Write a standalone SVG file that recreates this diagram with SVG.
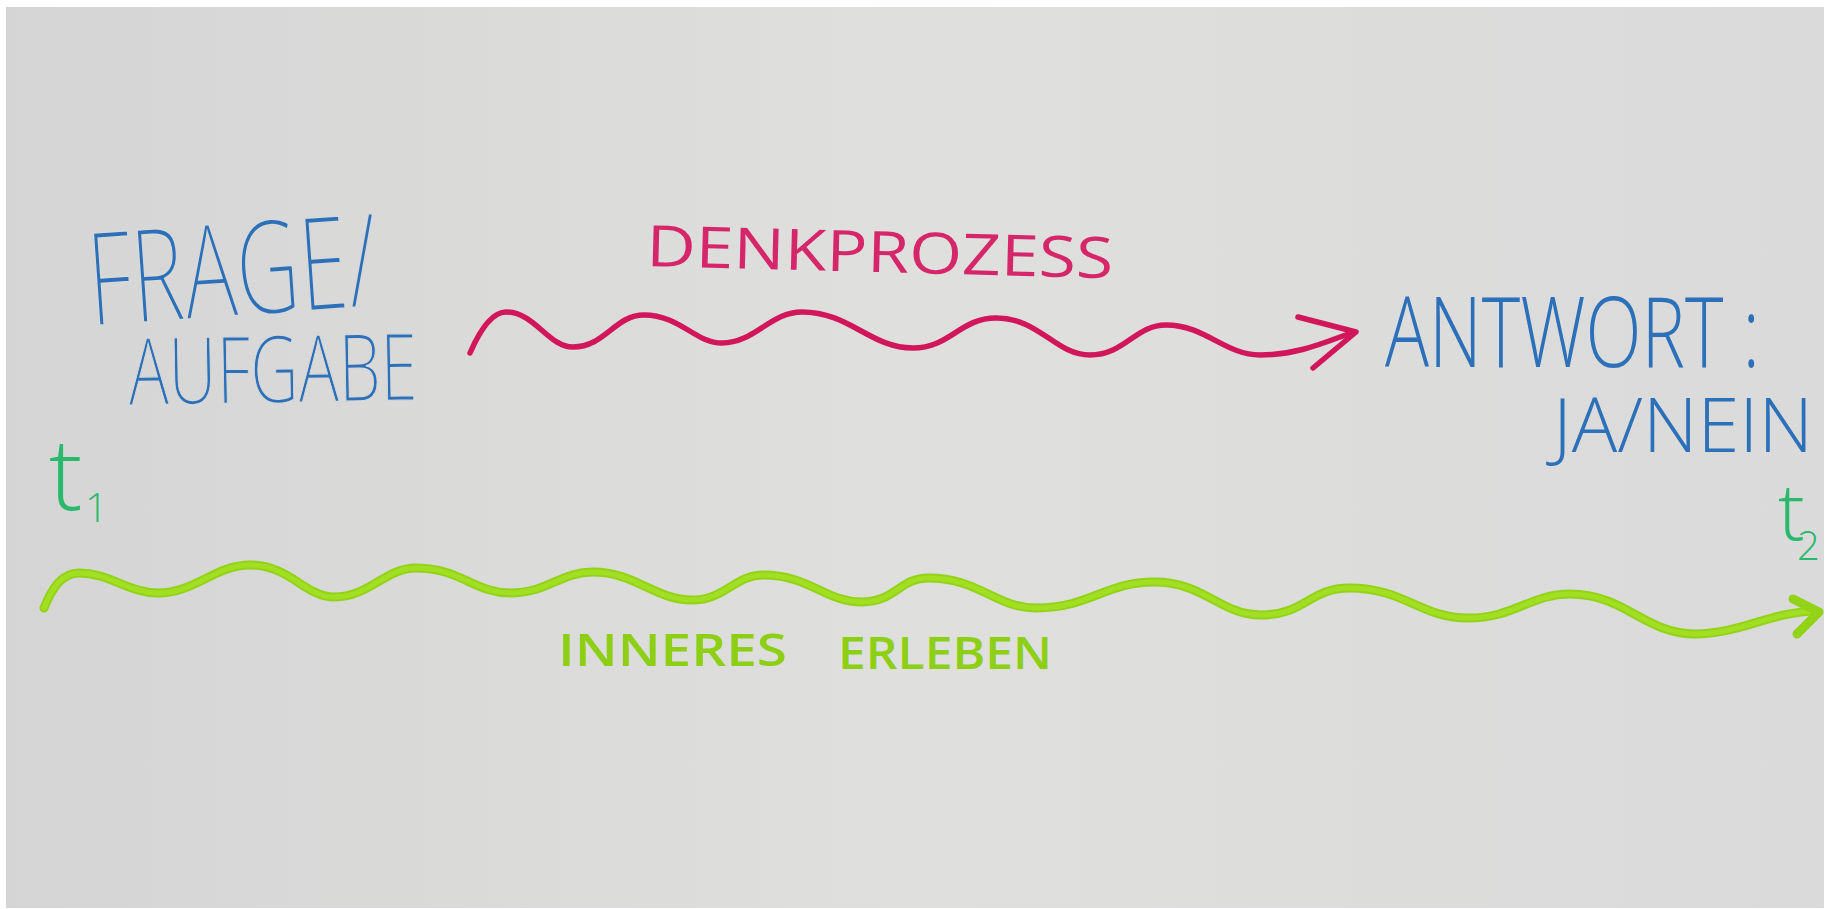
<svg xmlns="http://www.w3.org/2000/svg" width="1827" height="909" viewBox="0 0 1827 909">
<defs>
<linearGradient id="paper" x1="0" y1="0" x2="1" y2="0">
<stop offset="0" stop-color="#d5d5d5"/>
<stop offset="0.5" stop-color="#dfdfde"/>
<stop offset="1" stop-color="#dadada"/>
</linearGradient>
<style>
.blue{fill:#2b70b8;font-family:"Open Sans","Lato","Liberation Sans",sans-serif;font-weight:300}
.thin{stroke:#d8d8d8;paint-order:fill}
.red{fill:#d6266a;font-family:"Open Sans","Lato","Liberation Sans",sans-serif;font-weight:400}
.tg{fill:#29b96c;font-family:"Open Sans","Lato","Liberation Sans",sans-serif;font-weight:300}
.lime{fill:#8ccf14;font-family:"Open Sans","Lato","Liberation Sans",sans-serif;font-weight:600}
.wr{fill:none;stroke:#d1175a;stroke-width:5.5;stroke-linecap:round;stroke-linejoin:round}
.wg{fill:none;stroke:#92d318;stroke-width:9;stroke-linecap:round;stroke-linejoin:round}
.wgi{fill:none;stroke:#a2df22;stroke-width:5;stroke-linecap:round;stroke-linejoin:round}
</style>
</defs>
<rect x="0" y="0" width="1827" height="909" fill="#ffffff"/>
<rect x="6" y="7" width="1818" height="901" fill="url(#paper)"/>

<g id="frage">
<text class="blue thin" stroke-width="2" x="91" y="326" font-size="130" textLength="290" lengthAdjust="spacingAndGlyphs" transform="rotate(-4 91 326)">FRAGE/</text>
<text class="blue thin" stroke-width="1.2" x="129" y="405" font-size="93" textLength="289" lengthAdjust="spacingAndGlyphs" transform="rotate(-1 129 405)">AUFGABE</text>
</g>

<g id="denkprozess">
<text class="red" x="646" y="266" font-size="57" textLength="467" lengthAdjust="spacingAndGlyphs" transform="rotate(1.5 646 266)">DENKPROZESS</text>
</g>

<g id="antwort">
<text class="blue" transform="scale(0.75,1)" x="1846.7" y="367" font-size="98" textLength="500" lengthAdjust="spacingAndGlyphs">ANTWORT :</text>
<text class="blue" transform="scale(0.9,1)" x="1725.6" y="452" font-size="76" textLength="288.9" lengthAdjust="spacingAndGlyphs">JA/NEIN</text>
</g>

<g id="t1">
<text class="tg" x="49" y="510" font-size="100">t<tspan x="85" y="522" font-size="40">1</tspan></text>
</g>

<g id="t2">
<text class="tg" x="1778" y="540" font-size="80">t<tspan x="1797" y="560" font-size="40">2</tspan></text>
</g>

<g id="inneres">
<text class="lime" y="666" font-size="45"><tspan x="558" textLength="229" lengthAdjust="spacingAndGlyphs">INNERES</tspan> <tspan x="838" y="669" textLength="214" lengthAdjust="spacingAndGlyphs">ERLEBEN</tspan></text>
</g>

<g id="connectors">
<path class="wr" d="M470,353 C480,330 492,312 506,312 C535,312 548,347 573,347 C605,347 615,315 644,315 C680,315 695,343 722,343 C755,343 770,312 802,312 C850,312 870,348 913,348 C950,348 960,318 996,318 C1040,318 1055,355 1090,355 C1125,355 1135,325 1166,325 C1205,325 1225,355 1260,355 C1300,355 1330,340 1354,332"/>
<path class="wr" d="M1298,317 L1356,332 L1313,368" stroke-width="7"/>
<path class="wg" d="M44,608 C52,588 62,573 79,573 C110,573 128,593 158,593 C195,593 215,565 250,565 C290,565 305,597 334,597 C370,597 385,568 416,568 C460,568 475,593 510,593 C548,593 560,572 593,572 C635,572 655,600 692,600 C725,600 735,575 763,575 C810,575 825,602 862,602 C895,602 900,578 928,578 C980,578 995,608 1036,608 C1090,608 1105,582 1154,582 C1205,582 1220,615 1261,615 C1305,615 1310,588 1349,588 C1405,588 1420,618 1468,618 C1515,618 1530,594 1570,594 C1625,594 1645,634 1695,634 C1740,634 1770,612 1816,611"/>
<path class="wgi" d="M44,608 C52,588 62,573 79,573 C110,573 128,593 158,593 C195,593 215,565 250,565 C290,565 305,597 334,597 C370,597 385,568 416,568 C460,568 475,593 510,593 C548,593 560,572 593,572 C635,572 655,600 692,600 C725,600 735,575 763,575 C810,575 825,602 862,602 C895,602 900,578 928,578 C980,578 995,608 1036,608 C1090,608 1105,582 1154,582 C1205,582 1220,615 1261,615 C1305,615 1310,588 1349,588 C1405,588 1420,618 1468,618 C1515,618 1530,594 1570,594 C1625,594 1645,634 1695,634 C1740,634 1770,612 1816,611"/>
<path class="wg" d="M1793,599 L1819,612 L1797,634" stroke-width="6"/>
</g>
</svg>
